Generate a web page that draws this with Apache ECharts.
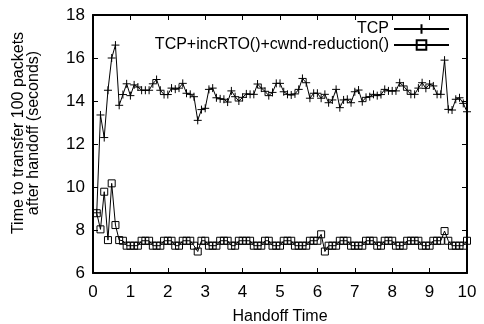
<!DOCTYPE html>
<html><head><meta charset="utf-8">
<script src="https://cdn.jsdelivr.net/npm/echarts@6/dist/echarts.min.js"></script>
<style>html,body{margin:0;padding:0;background:#fff}#c{width:484px;height:324px}</style>
</head><body><div id="c"></div>
<script>
const handoffTimes = [
 0.1,0.2,0.3,0.4,0.5,0.6,0.7,0.8,0.9,1.0,
 1.1,1.2,1.3,1.4,1.5,1.6,1.7,1.8,1.9,2.0,
 2.1,2.2,2.3,2.4,2.5,2.6,2.7,2.8,2.9,3.0,
 3.1,3.2,3.3,3.4,3.5,3.6,3.7,3.8,3.9,4.0,
 4.1,4.2,4.3,4.4,4.5,4.6,4.7,4.8,4.9,5.0,
 5.1,5.2,5.3,5.4,5.5,5.6,5.7,5.8,5.9,6.0,
 6.1,6.2,6.3,6.4,6.5,6.6,6.7,6.8,6.9,7.0,
 7.1,7.2,7.3,7.4,7.5,7.6,7.7,7.8,7.9,8.0,
 8.1,8.2,8.3,8.4,8.5,8.6,8.7,8.8,8.9,9.0,
 9.1,9.2,9.3,9.4,9.5,9.6,9.7,9.8,9.9,10.0
];
const tcpValues = [
 8.8,13.35,12.3,14.5,16.0,16.6,13.8,14.3,14.8,14.25,
 14.75,14.65,14.5,14.5,14.5,14.8,15.0,14.5,14.3,14.3,
 14.6,14.55,14.6,14.82,14.36,14.31,14.2,13.1,13.6,13.66,
 14.54,14.6,14.15,14.1,14.08,13.95,14.47,14.2,14.0,14.17,
 14.33,14.31,14.31,14.79,14.6,14.45,14.25,14.4,14.82,14.82,
 14.43,14.31,14.28,14.33,14.54,15.05,14.85,14.13,14.36,14.36,
 14.13,14.31,13.92,14.05,14.54,13.69,14.05,14.08,13.92,14.43,
 14.51,13.97,14.17,14.2,14.31,14.25,14.3,14.54,14.47,14.47,
 14.47,14.85,14.7,14.5,14.31,14.31,14.6,14.85,14.59,14.79,
 14.7,14.31,14.31,15.9,13.61,13.58,14.08,14.15,13.89,13.5
];
const modValues = [
 8.78,8.03,9.78,7.53,10.17,8.23,7.53,7.5,7.27,7.27,
 7.27,7.27,7.5,7.5,7.5,7.27,7.27,7.27,7.5,7.5,
 7.5,7.27,7.27,7.5,7.5,7.5,7.27,7.0,7.5,7.5,
 7.27,7.27,7.27,7.5,7.5,7.5,7.27,7.27,7.5,7.5,
 7.5,7.5,7.27,7.27,7.27,7.5,7.5,7.27,7.27,7.27,
 7.5,7.5,7.5,7.27,7.27,7.27,7.27,7.5,7.5,7.5,
 7.8,7.0,7.27,7.27,7.27,7.5,7.5,7.5,7.27,7.27,
 7.27,7.27,7.5,7.5,7.5,7.27,7.27,7.5,7.5,7.5,
 7.27,7.27,7.27,7.5,7.5,7.5,7.5,7.27,7.27,7.27,
 7.5,7.5,7.5,7.95,7.5,7.27,7.27,7.27,7.27,7.5
];
const seriesNames = ['TCP', 'TCP+incRTO()+cwnd-reduction()'];
const xTicks = [0,1,2,3,4,5,6,7,8,9,10];
const yTicks = [6,8,10,12,14,16,18];

const FONT = '"Liberation Sans", Arial, Helvetica, sans-serif';
const chart = echarts.init(document.getElementById('c'), null, {renderer: 'canvas'});
const pair = (ys) => handoffTimes.map((x, i) => [x, ys[i]]);
const plusPath = 'path://M0,5L10,5M5,0L5,10';
const axisBase = {
  type: 'value', splitLine: {show: false},
  axisLine: {show: true, onZero: false, lineStyle: {color: '#000', width: 2}},
  axisTick: {show: true, inside: true, length: 5, lineStyle: {color: '#000', width: 1}}
};
chart.setOption({
  animation: false,
  backgroundColor: '#fff',
  grid: {left: 93, right: 17, top: 15, bottom: 51, containLabel: false, outerBoundsMode: 'none'},
  legend: {
    orient: 'vertical', right: 29, top: 16, align: 'right',
    itemWidth: 55, itemHeight: 12, itemGap: 0,
    textStyle: {fontFamily: FONT, fontSize: 16, color: '#000', lineHeight: 16},
    data: seriesNames
  },
  xAxis: [
    Object.assign({}, axisBase, {
      min: xTicks[0], max: xTicks[xTicks.length - 1], interval: 1, position: 'bottom',
      name: 'Handoff Time', nameLocation: 'middle', nameGap: 36,
      nameTextStyle: {fontFamily: FONT, fontSize: 16, color: '#000'},
      axisLabel: {fontFamily: FONT, fontSize: 17, color: '#000', margin: 11}
    }),
    Object.assign({}, axisBase, {
      min: xTicks[0], max: xTicks[xTicks.length - 1], interval: 1, position: 'top',
      axisLabel: {show: false}
    })
  ],
  yAxis: [
    Object.assign({}, axisBase, {
      min: yTicks[0], max: yTicks[yTicks.length - 1], interval: 2, position: 'left',
      name: 'Time to transfer 100 packets\nafter handoff (seconds)', nameLocation: 'middle', nameGap: 52,
      nameTextStyle: {fontFamily: FONT, fontSize: 16, color: '#000', lineHeight: 15, padding: [0, 0, 0, 22]},
      axisLabel: {fontFamily: FONT, fontSize: 17, color: '#000', margin: 8}
    }),
    Object.assign({}, axisBase, {
      min: yTicks[0], max: yTicks[yTicks.length - 1], interval: 2, position: 'right',
      axisLabel: {show: false}
    })
  ],
  series: [
    {
      name: seriesNames[0], type: 'line', data: pair(tcpValues),
      symbol: plusPath, symbolSize: 8, showSymbol: true,
      lineStyle: {color: '#000', width: 1},
      itemStyle: {color: 'rgba(0,0,0,0)', borderColor: '#000', borderWidth: 1},
      emphasis: {disabled: true}
    },
    {
      name: seriesNames[1], type: 'line', data: pair(modValues),
      symbol: 'rect', symbolSize: 7, showSymbol: true,
      lineStyle: {color: '#000', width: 1},
      itemStyle: {color: 'rgba(0,0,0,0)', borderColor: '#000', borderWidth: 1},
      emphasis: {disabled: true}
    }
  ]
});
</script></body></html>
